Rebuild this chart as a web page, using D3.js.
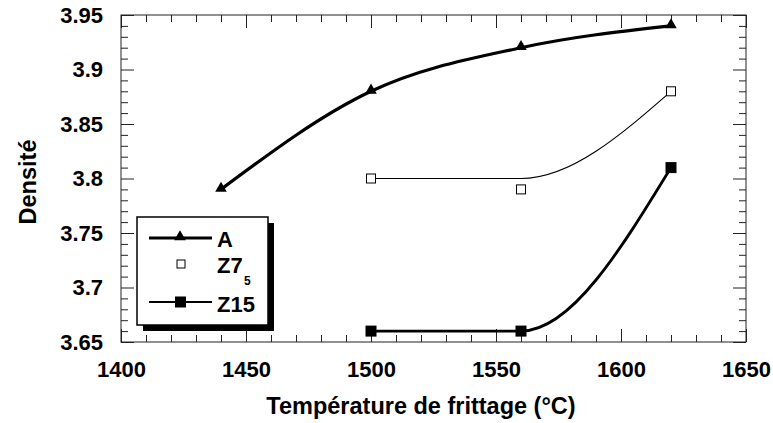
<!DOCTYPE html>
<html>
<head>
<meta charset="utf-8">
<script src="https://cdn.jsdelivr.net/npm/d3@7/dist/d3.min.js"></script>
<style>
  html, body { margin: 0; padding: 0; background: #fff; }
  svg { display: block; }
  text { font-family: "Liberation Sans", Arial, Helvetica, sans-serif; font-weight: bold; fill: #000; }
</style>
</head>
<body>
<svg id="chart" width="773" height="423"></svg>
<script>
// Sintering temperature (°C) vs. density for three compositions
const tempA = [1440, 1500, 1560, 1620];
const densA = [3.79, 3.88, 3.92, 3.94];

const tempZ75 = [1500, 1560, 1620];
const densZ75 = [3.80, 3.79, 3.88];

const tempZ15 = [1500, 1560, 1620];
const densZ15 = [3.66, 3.66, 3.81];

const xMajorTicks = [1400, 1450, 1500, 1550, 1600, 1650];
const yMajorTicks = [3.65, 3.7, 3.75, 3.8, 3.85, 3.9, 3.95];

const xLabel = "Température de frittage (°C)";
const yLabel = "Densité";

const W = 773, H = 423;
const margin = { top: 15, right: 27, bottom: 81, left: 121 };
const iw = W - margin.left - margin.right;
const ih = H - margin.top - margin.bottom;

const svg = d3.select("#chart");
const g = svg.append("g").attr("transform", `translate(${margin.left},${margin.top})`);

const x = d3.scaleLinear().domain([1400, 1650]).range([0, iw]);
const y = d3.scaleLinear().domain([3.65, 3.95]).range([ih, 0]);

// minor ticks every 10 °C and every 0.01
const xMinor = d3.range(0, 26).map(i => 1400 + i * 10).filter(v => v % 50 !== 0);
const yMinor = d3.range(0, 31).map(i => +(3.65 + i * 0.01).toFixed(2))
  .filter(v => Math.round(v * 100) % 5 !== 0);

const fmtY = d => String(+d.toFixed(2));
const MAJ = 13, MIN = 7;

function styleAxis(sel) {
  sel.select(".domain").remove();
  sel.selectAll(".tick line").attr("stroke", "#222").attr("stroke-width", 1);
  sel.selectAll(".tick text").style("font-size", "22px");
}

// bottom
g.append("g").attr("transform", `translate(0,${ih})`)
  .call(d3.axisBottom(x).tickValues(xMinor).tickSize(-MIN).tickFormat(""))
  .call(styleAxis);
g.append("g").attr("transform", `translate(0,${ih})`)
  .call(d3.axisBottom(x).tickValues(xMajorTicks).tickSize(-MAJ).tickPadding(19).tickFormat(d3.format("d")))
  .call(styleAxis);
// top
g.append("g")
  .call(d3.axisTop(x).tickValues(xMinor).tickSize(-MIN).tickFormat(""))
  .call(styleAxis);
g.append("g")
  .call(d3.axisTop(x).tickValues(xMajorTicks).tickSize(-MAJ).tickFormat(""))
  .call(styleAxis);
// left
g.append("g")
  .call(d3.axisLeft(y).tickValues(yMinor).tickSize(-MIN).tickFormat(""))
  .call(styleAxis);
g.append("g")
  .call(d3.axisLeft(y).tickValues(yMajorTicks).tickSize(-MAJ).tickPadding(18).tickFormat(fmtY))
  .call(styleAxis);
// right
g.append("g").attr("transform", `translate(${iw},0)`)
  .call(d3.axisRight(y).tickValues(yMinor).tickSize(-MIN).tickFormat(""))
  .call(styleAxis);
g.append("g").attr("transform", `translate(${iw},0)`)
  .call(d3.axisRight(y).tickValues(yMajorTicks).tickSize(-MAJ).tickFormat(""))
  .call(styleAxis);

// frame
g.append("rect").attr("x", 0).attr("y", 0).attr("width", iw).attr("height", ih)
  .attr("fill", "none").attr("stroke", "#222").attr("stroke-width", 1);

// curves
const line = d3.line().x(d => x(d[0])).y(d => y(d[1])).curve(d3.curveMonotoneX);

const ptsA = tempA.map((t, i) => [t, densA[i]]);
const ptsZ75 = tempZ75.map((t, i) => [t, densZ75[i]]);
const ptsZ15 = tempZ15.map((t, i) => [t, densZ15[i]]);

// Z7_5 trend: non-decreasing envelope of the measured densities
let runMax = -Infinity;
const trendZ75 = ptsZ75.map(([t, v]) => { runMax = Math.max(runMax, v); return [t, runMax]; });

g.append("path").attr("d", line(ptsA)).attr("fill", "none")
  .attr("stroke", "#000").attr("stroke-width", 3.2).attr("stroke-linejoin", "round");
g.append("path").attr("d", line(trendZ75)).attr("fill", "none")
  .attr("stroke", "#000").attr("stroke-width", 1.1);
g.append("path").attr("d", line(ptsZ15)).attr("fill", "none")
  .attr("stroke", "#000").attr("stroke-width", 2.8);

const tri = d3.symbol().type(d3.symbolTriangle).size(58);

g.selectAll(".mA").data(ptsA).enter().append("path")
  .attr("d", tri).attr("transform", d => `translate(${x(d[0])},${y(d[1]) - 1})`).attr("fill", "#000");

g.selectAll(".mZ75").data(ptsZ75).enter().append("rect")
  .attr("x", d => x(d[0]) - 4.5).attr("y", d => y(d[1]) - 4.5)
  .attr("width", 9).attr("height", 9).attr("fill", "#fff").attr("stroke", "#000").attr("stroke-width", 1);

g.selectAll(".mZ15").data(ptsZ15).enter().append("rect")
  .attr("x", d => x(d[0]) - 5.5).attr("y", d => y(d[1]) - 5.5)
  .attr("width", 11).attr("height", 11).attr("fill", "#000");

// axis titles
svg.append("text").attr("x", 421).attr("y", 414).attr("text-anchor", "middle")
  .style("font-size", "23.5px").text(xLabel);
svg.append("text").attr("transform", "translate(36,182) rotate(-90)").attr("text-anchor", "middle")
  .style("font-size", "23.5px").text(yLabel);

// legend
const lg = svg.append("g");
const bx = 137, by = 217, bw = 131, bh = 108;
lg.append("rect").attr("x", bx + 6).attr("y", by + 6).attr("width", bw).attr("height", bh).attr("fill", "#000");
lg.append("rect").attr("x", bx).attr("y", by).attr("width", bw).attr("height", bh)
  .attr("fill", "#fff").attr("stroke", "#000").attr("stroke-width", 1.5);

// A
lg.append("line").attr("x1", 149).attr("x2", 212).attr("y1", 238).attr("y2", 238)
  .attr("stroke", "#000").attr("stroke-width", 3);
lg.append("path").attr("d", tri).attr("transform", "translate(180,237)").attr("fill", "#000");
lg.append("text").attr("x", 217).attr("y", 247).style("font-size", "22px").text("A");
// Z7_5
lg.append("rect").attr("x", 177).attr("y", 260).attr("width", 8).attr("height", 8)
  .attr("fill", "#fff").attr("stroke", "#000").attr("stroke-width", 1);
lg.append("text").attr("x", 217).attr("y", 273).style("font-size", "22px").text("Z7");
lg.append("text").attr("x", 244).attr("y", 285).style("font-size", "12px").text("5");
// Z15
lg.append("line").attr("x1", 149).attr("x2", 212).attr("y1", 302).attr("y2", 302)
  .attr("stroke", "#000").attr("stroke-width", 2);
lg.append("rect").attr("x", 175).attr("y", 296.5).attr("width", 11).attr("height", 11).attr("fill", "#000");
lg.append("text").attr("x", 217).attr("y", 312).style("font-size", "22px").text("Z15");
</script>
</body>
</html>
